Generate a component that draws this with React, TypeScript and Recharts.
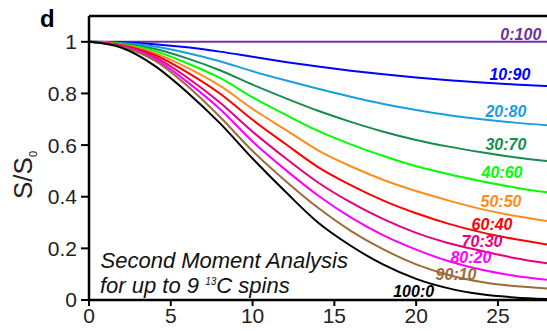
import { LineChart, Line, XAxis, YAxis, ReferenceLine, ReferenceDot } from 'recharts';

const FONT = '"Liberation Sans", Arial, sans-serif';

// time axis samples
const X_VALUES = [0, 2, 4, 6, 8, 10, 12, 14, 16, 18, 20, 22, 24, 26, 28];

// S/S0 per dilution (13C : 12C)
const S_0_100 = [1, 1, 1, 1, 1, 1, 1, 1, 1, 1, 1, 1, 1, 1, 1];
const S_10_90 = [1, 0.998, 0.991, 0.979, 0.962, 0.942, 0.922, 0.904, 0.888, 0.874, 0.862, 0.851, 0.842, 0.835, 0.829];
const S_20_80 = [1, 0.995, 0.982, 0.957, 0.925, 0.886, 0.851, 0.818, 0.787, 0.759, 0.736, 0.716, 0.7, 0.687, 0.677];
const S_30_70 = [1, 0.993, 0.973, 0.936, 0.89, 0.834, 0.782, 0.733, 0.69, 0.652, 0.62, 0.594, 0.572, 0.553, 0.538];
const S_40_60 = [1, 0.991, 0.965, 0.917, 0.86, 0.785, 0.718, 0.655, 0.603, 0.558, 0.518, 0.487, 0.46, 0.436, 0.417];
const S_50_50 = [1, 0.989, 0.957, 0.9, 0.83, 0.74, 0.66, 0.58, 0.518, 0.465, 0.422, 0.385, 0.352, 0.326, 0.306];
const S_60_40 = [1, 0.987, 0.95, 0.882, 0.8, 0.698, 0.605, 0.515, 0.445, 0.385, 0.336, 0.295, 0.262, 0.236, 0.215];
const S_70_30 = [1, 0.985, 0.942, 0.862, 0.765, 0.652, 0.55, 0.455, 0.378, 0.313, 0.26, 0.22, 0.19, 0.163, 0.142];
const S_80_20 = [1, 0.983, 0.935, 0.845, 0.74, 0.614, 0.505, 0.405, 0.32, 0.25, 0.195, 0.15, 0.117, 0.094, 0.078];
const S_90_10 = [1, 0.981, 0.928, 0.83, 0.71, 0.577, 0.462, 0.357, 0.268, 0.196, 0.138, 0.097, 0.07, 0.054, 0.045];
const S_100_0 = [1, 0.977, 0.908, 0.805, 0.685, 0.548, 0.42, 0.3, 0.21, 0.137, 0.082, 0.045, 0.022, 0.01, 0.004];

const SERIES_NAMES = ['0:100', '10:90', '20:80', '30:70', '40:60', '50:50', '60:40', '70:30', '80:20', '90:10', '100:0'];
const SERIES_VALUES = [S_0_100, S_10_90, S_20_80, S_30_70, S_40_60, S_50_50, S_60_40, S_70_30, S_80_20, S_90_10, S_100_0];
const COLORS = ['#7030A0', '#0000FF', '#1B9DE2', '#168C4E', '#00FF00', '#FF8C1A', '#FF0000', '#E6007E', '#FF00FF', '#9C6B3A', '#000000'];

// where each series name sits (data coords)
const LABEL_X = [26.4, 25.73, 25.49, 25.49, 25.25, 25.19, 24.64, 24.03, 23.35, 22.44, 19.85];
const LABEL_Y = [1.03, 0.875, 0.732, 0.604, 0.494, 0.383, 0.294, 0.226, 0.165, 0.101, 0.035];

const X_TICKS = [0, 5, 10, 15, 20, 25];
const Y_TICKS = [0, 0.2, 0.4, 0.6, 0.8, 1];

const data = X_VALUES.map((x, i) => {
  const row: any = { x };
  SERIES_NAMES.forEach((name, s) => {
    row[name] = SERIES_VALUES[s][i];
  });
  return row;
});

const fmtY = (v: number) => (v === 0 ? '0' : v === 1 ? '1' : v.toFixed(1));

export default function App() {
  return (
    <div style={{ position: 'relative', width: 547, height: 331, fontFamily: FONT }}>
      <style>{'body{margin:0}'}</style>
      <LineChart
        width={547}
        height={331}
        data={data}
        margin={{ top: 16, right: 0, bottom: 0, left: 0 }}
      >
        <XAxis
          dataKey="x"
          type="number"
          domain={[0, 28]}
          ticks={X_TICKS}
          allowDataOverflow
          height={31}
          tickSize={6}
          tickMargin={2}
          axisLine={{ stroke: '#000', strokeWidth: 2.5 }}
          tickLine={{ stroke: '#000', strokeWidth: 2 }}
          tick={{ fill: '#222', fontSize: 21, fontFamily: FONT }}
        />
        <YAxis
          type="number"
          domain={[0, 1.1]}
          ticks={Y_TICKS}
          width={89}
          tickSize={8}
          tickMargin={4}
          tickFormatter={fmtY}
          axisLine={{ stroke: '#000', strokeWidth: 2.5 }}
          tickLine={{ stroke: '#000', strokeWidth: 2 }}
          tick={{ fill: '#222', fontSize: 21, fontFamily: FONT }}
        />
        <ReferenceLine y={1.1} stroke="#000" strokeWidth={2.5} />
        {SERIES_NAMES.map((name, s) => (
          <Line
            key={name}
            dataKey={name}
            type="monotone"
            stroke={COLORS[s]}
            strokeWidth={2}
            dot={false}
            activeDot={false}
            isAnimationActive={false}
          />
        ))}
        {SERIES_NAMES.map((name, s) => (
          <ReferenceDot
            key={'lbl-' + name}
            x={LABEL_X[s]}
            y={LABEL_Y[s]}
            ifOverflow="visible"
            shape={(p: any) => (
              <text
                x={p.cx}
                y={p.cy + 5.8}
                textAnchor="middle"
                fill={COLORS[s]}
                fontSize={16}
                fontWeight="bold"
                fontStyle="italic"
                fontFamily={FONT}
              >
                {name}
              </text>
            )}
          />
        ))}
      </LineChart>
      <svg
        width={547}
        height={331}
        style={{ position: 'absolute', left: 0, top: 0, pointerEvents: 'none' }}
        fontFamily={FONT}
      >
        <text x={40} y={27} fontSize={24} fontWeight="bold" fill="#000">d</text>
        <text
          transform="translate(31.5,175) rotate(-90)"
          textAnchor="middle"
          fontSize={26}
          fill="#222"
        >
          S/S<tspan fontSize={11} dy={5}>0</tspan>
        </text>
        <text x={100.5} y={267.5} fontSize={22} fontStyle="italic" fill="#111">
          Second Moment Analysis
        </text>
        <text x={100} y={293} fontSize={22} fontStyle="italic" fill="#111">
          for up to 9 <tspan fontSize={10} dy={-8.5}>13</tspan>
          <tspan dy={8.5}>C spins</tspan>
        </text>
      </svg>
    </div>
  );
}
